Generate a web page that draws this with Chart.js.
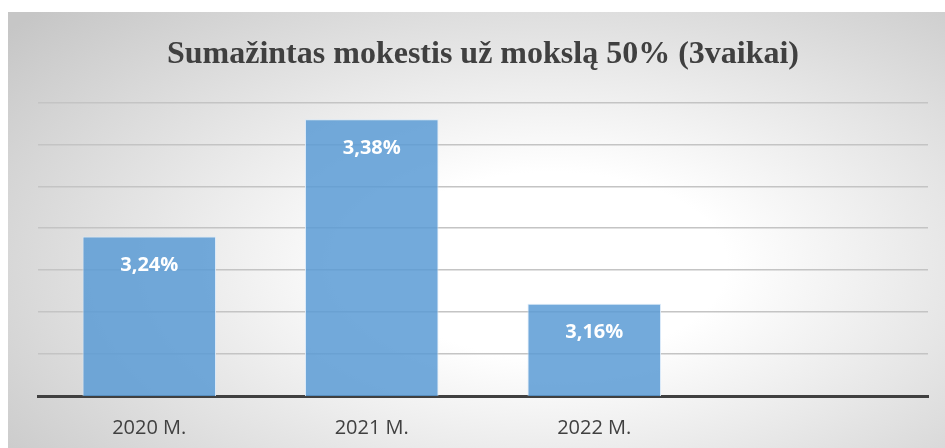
<!DOCTYPE html>
<html>
<head>
<meta charset="utf-8">
<script src="https://cdn.jsdelivr.net/npm/chart.js@4"></script>
<style>
  html, body { margin: 0; padding: 0; background: #fff; }
  #wrap {
    position: absolute; left: 8px; top: 12px; width: 937px; height: 436px;
    background: radial-gradient(ellipse 75% 85% at 58% 58%, #ffffff 25%, #c6c6c6 100%);
  }
</style>
</head>
<body>
<div id="wrap"><canvas id="chart" width="937" height="436"></canvas></div>
<script>
const categories = ['2020 M.', '2021 M.', '2022 M.', ''];
const values = [3.24, 3.38, 3.16, null];
const yMin = 3.05;
const yMax = 3.40;
const yStep = 0.05;

const valueLabels = {
  id: 'valueLabels',
  afterDatasetsDraw(chart) {
    const ctx = chart.ctx;
    const meta = chart.getDatasetMeta(0);
    ctx.save();
    ctx.fillStyle = '#ffffff';
    ctx.font = 'bold 20px "Open Sans"';
    ctx.textAlign = 'center';
    ctx.textBaseline = 'middle';
    meta.data.forEach((bar, i) => {
      const v = values[i];
      if (v == null) return;
      ctx.fillText(v.toFixed(2).replace('.', ',') + '%', bar.x, bar.y + 29);
    });
    ctx.restore();
  }
};

new Chart(document.getElementById('chart'), {
  type: 'bar',
  data: {
    labels: categories,
    datasets: [{
      data: values,
      backgroundColor: 'rgba(91, 155, 213, 0.85)',
      borderColor: 'rgba(215, 232, 248, 0.9)',
      borderWidth: 1,
      categoryPercentage: 1,
      barPercentage: 0.6,
    }],
  },
  options: {
    responsive: false,
    animation: false,
    layout: { padding: { left: 30, right: 17, top: 0, bottom: -12 } },
    plugins: {
      legend: { display: false },
      tooltip: { enabled: false },
      title: {
        display: true,
        text: 'Sumažintas mokestis už mokslą 50% (3vaikai)',
        color: '#404040',
        font: { family: '"Liberation Serif"', size: 32, weight: 'bold' },
        padding: { top: 24, bottom: 28 },
      },
    },
    scales: {
      x: {
        grid: { display: false, drawTicks: false },
        border: { display: true, color: '#404040', width: 3 },
        ticks: {
          color: '#404040',
          font: { family: '"Open Sans"', size: 20 },
          padding: 20,
        },
      },
      y: {
        min: yMin,
        max: yMax,
        ticks: { display: false, stepSize: yStep },
        grid: { color: '#c4c4c4', lineWidth: 1.5, drawTicks: false },
        border: { display: false },
      },
    },
  },
  plugins: [valueLabels],
});
</script>
</body>
</html>
